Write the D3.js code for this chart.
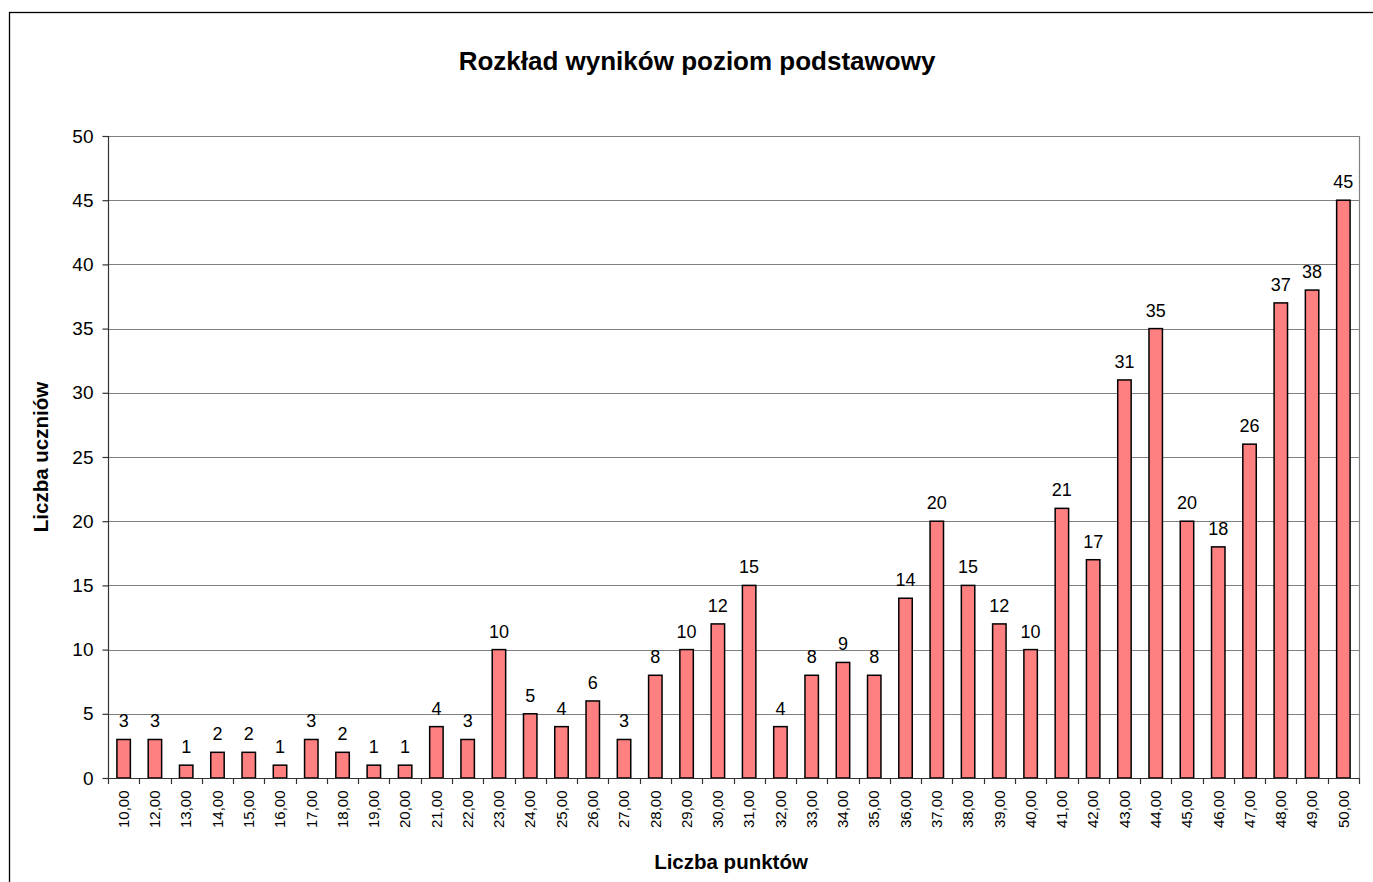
<!DOCTYPE html>
<html><head><meta charset="utf-8">
<script src="https://cdn.jsdelivr.net/npm/d3@7"></script>
<style>body{margin:0;background:#fff}svg{display:block;font-family:"Liberation Sans",Arial,sans-serif}</style>
</head><body><svg id="c" width="1373" height="882"></svg>
<script>
const categories = ["10,00","12,00","13,00","14,00","15,00","16,00","17,00","18,00","19,00","20,00","21,00","22,00","23,00","24,00","25,00","26,00","27,00","28,00","29,00","30,00","31,00","32,00","33,00","34,00","35,00","36,00","37,00","38,00","39,00","40,00","41,00","42,00","43,00","44,00","45,00","46,00","47,00","48,00","49,00","50,00"];
const values = [3,3,1,2,2,1,3,2,1,1,4,3,10,5,4,6,3,8,10,12,15,4,8,9,8,14,20,15,12,10,21,17,31,35,20,18,26,37,38,45];
const yTicks = [0,5,10,15,20,25,30,35,40,45,50];
const title = "Rozkład wyników poziom podstawowy";
const xTitle = "Liczba punktów";
const yTitle = "Liczba uczniów";

const svg = d3.select("#c");
const L = 108, R = 1359, T = 136, B = 778;
svg.append("rect").attr("x",9.5).attr("y",12.5).attr("width",1400).attr("height",900)
  .attr("fill","#fff").attr("stroke","#000").attr("stroke-width",1.3);

const x = d3.scaleBand().domain(categories).range([L,R]).paddingInner(0).paddingOuter(0);
const y = d3.scaleLinear().domain([0,50]).range([B,T]);

// gridlines
svg.append("g").selectAll("line").data(yTicks.filter(d=>d>0)).join("line")
  .attr("x1",L).attr("x2",R).attr("y1",d=>Math.round(y(d))+0.5).attr("y2",d=>Math.round(y(d))+0.5)
  .attr("stroke","#808080").attr("stroke-width",1.2);
svg.append("line").attr("x1",R+0.5).attr("x2",R+0.5).attr("y1",T).attr("y2",B).attr("stroke","#808080").attr("stroke-width",1.2);

// bars
const bw = x.bandwidth()*0.43;
svg.append("g").selectAll("rect").data(values).join("rect")
  .attr("x",(d,i)=>x(categories[i])+x.bandwidth()/2-bw/2)
  .attr("y",d=>y(d)).attr("width",bw).attr("height",d=>B-y(d))
  .attr("fill","#FF8080").attr("stroke","#000").attr("stroke-width",1.5);

// data labels
svg.append("g").selectAll("text").data(values).join("text")
  .attr("x",(d,i)=>x(categories[i])+x.bandwidth()/2)
  .attr("y",d=>y(d)-12).attr("text-anchor","middle")
  .attr("font-size",18).attr("fill","#000").text(d=>d);

// y axis
const ya = d3.axisLeft(y).tickValues(yTicks).tickSize(6).tickPadding(9);
const gy = svg.append("g").attr("transform",`translate(${L+0.5},0)`).call(ya);
gy.selectAll("text").attr("font-size",19).attr("font-family","Liberation Sans, Arial, sans-serif").attr("fill","#000");
gy.selectAll("line,path").attr("stroke","#333").attr("stroke-width",1.2);
gy.select("path").attr("d",`M0,${T}V${B}`);

// x axis
const xa = d3.axisBottom(x).tickSize(0).tickPadding(0);
const gx = svg.append("g").attr("transform",`translate(0,${B+0.5})`).call(xa);
gx.select("path").attr("d",`M${L},0H${R}`).attr("stroke","#333").attr("stroke-width",1.2);
gx.selectAll(".tick text").attr("font-size",15).attr("fill","#000")
  .attr("font-family","Liberation Sans, Arial, sans-serif")
  .attr("transform","rotate(-90)").attr("text-anchor","end").attr("dy","0.35em").attr("x",-12).attr("y",0);
svg.append("g").selectAll("line").data(d3.range(categories.length+1)).join("line")
  .attr("x1",i=>Math.round(L+i*x.step())+0.5).attr("x2",i=>Math.round(L+i*x.step())+0.5)
  .attr("y1",B).attr("y2",B+6).attr("stroke","#333").attr("stroke-width",1.2);

// titles
svg.append("text").attr("x",697).attr("y",70).attr("text-anchor","middle")
  .attr("font-size",26).attr("font-weight","bold").text(title);
svg.append("text").attr("x",731).attr("y",869).attr("text-anchor","middle")
  .attr("font-size",20.5).attr("font-weight","bold").text(xTitle);
svg.append("text").attr("transform","translate(48,457) rotate(-90)").attr("text-anchor","middle")
  .attr("font-size",20.5).attr("font-weight","bold").text(yTitle);
</script></body></html>
